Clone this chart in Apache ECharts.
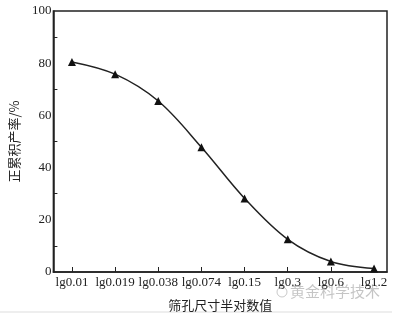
<!DOCTYPE html>
<html><head><meta charset="utf-8">
<script src="https://cdn.jsdelivr.net/npm/echarts@6/dist/echarts.min.js"></script>
<style>html,body{margin:0;padding:0;background:#fff}#c{width:402px;height:317px}</style>
</head><body><div id="c"></div>
<script>
const categories = ['lg0.01','lg0.019','lg0.038','lg0.074','lg0.15','lg0.3','lg0.6','lg1.2'];
const yieldValues = [80.5, 75.8, 65.5, 47.8, 28.2, 12.5, 4.0, 1.3];
const yTicks = [0, 20, 40, 60, 80, 100];

const chart = echarts.init(document.getElementById('c'));
const serif = '"Liberation Serif", "DejaVu Serif", serif';
const idx = categories.map((_, i) => i);
chart.setOption({
  animation: false,
  grid: { left: 47, right: 15, top: 11, bottom: 39, show: true, borderColor: '#222', borderWidth: 1.5, containLabel: false },
  xAxis: {
    type: 'value', min: -0.43, max: 7.3,
    name: '筛孔尺寸半对数值', nameLocation: 'middle', nameGap: 27,
    nameTextStyle: { fontFamily: '"Noto Sans CJK SC"', fontSize: 13, color: '#222' },
    axisLine: { show: true, onZero: false, lineStyle: { color: '#222', width: 1.5 } },
    splitLine: { show: false },
    axisTick: { show: true, inside: true, length: 5, customValues: idx, lineStyle: { color: '#222' } },
    axisLabel: { customValues: idx, formatter: v => categories[Math.round(v)], fontFamily: serif, fontSize: 13, color: '#222', margin: 4 }
  },
  yAxis: {
    type: 'value', min: 0, max: 100, interval: 20,
    name: '正累积产率/%', nameLocation: 'middle', nameGap: 25, nameRotate: 90,
    nameTextStyle: { fontFamily: '"Noto Sans CJK SC"', fontSize: 13, color: '#222' },
    axisLine: { show: true, onZero: false, lineStyle: { color: '#222', width: 1.5 } },
    splitLine: { show: false },
    axisTick: { show: true, inside: true, length: 4, customValues: [10,30,50,70,90], lineStyle: { color: '#222' } },
    axisLabel: { customValues: yTicks, fontFamily: serif, fontSize: 13, color: '#222', margin: 2 }
  },
  series: [{
    type: 'line', smooth: 0.35,
    data: idx.map(i => [i, yieldValues[i]]),
    symbol: 'triangle', symbolSize: 8,
    itemStyle: { color: '#111' },
    lineStyle: { color: '#222', width: 1.5 }
  }],
  graphic: [
    { type: 'line', shape: { x1: 0, y1: 312, x2: 392, y2: 312 }, style: { stroke: '#ddd', lineWidth: 1 } },
    { type: 'text', left: 290, top: 284, style: { text: '黄金科学技术', fill: 'rgba(150,150,150,0.55)', font: '15px "Noto Sans CJK SC"' } },
    { type: 'circle', shape: { cx: 282, cy: 292, r: 5 }, style: { fill: 'none', stroke: 'rgba(150,150,150,0.5)', lineWidth: 1 } }
  ]
});
</script></body></html>
